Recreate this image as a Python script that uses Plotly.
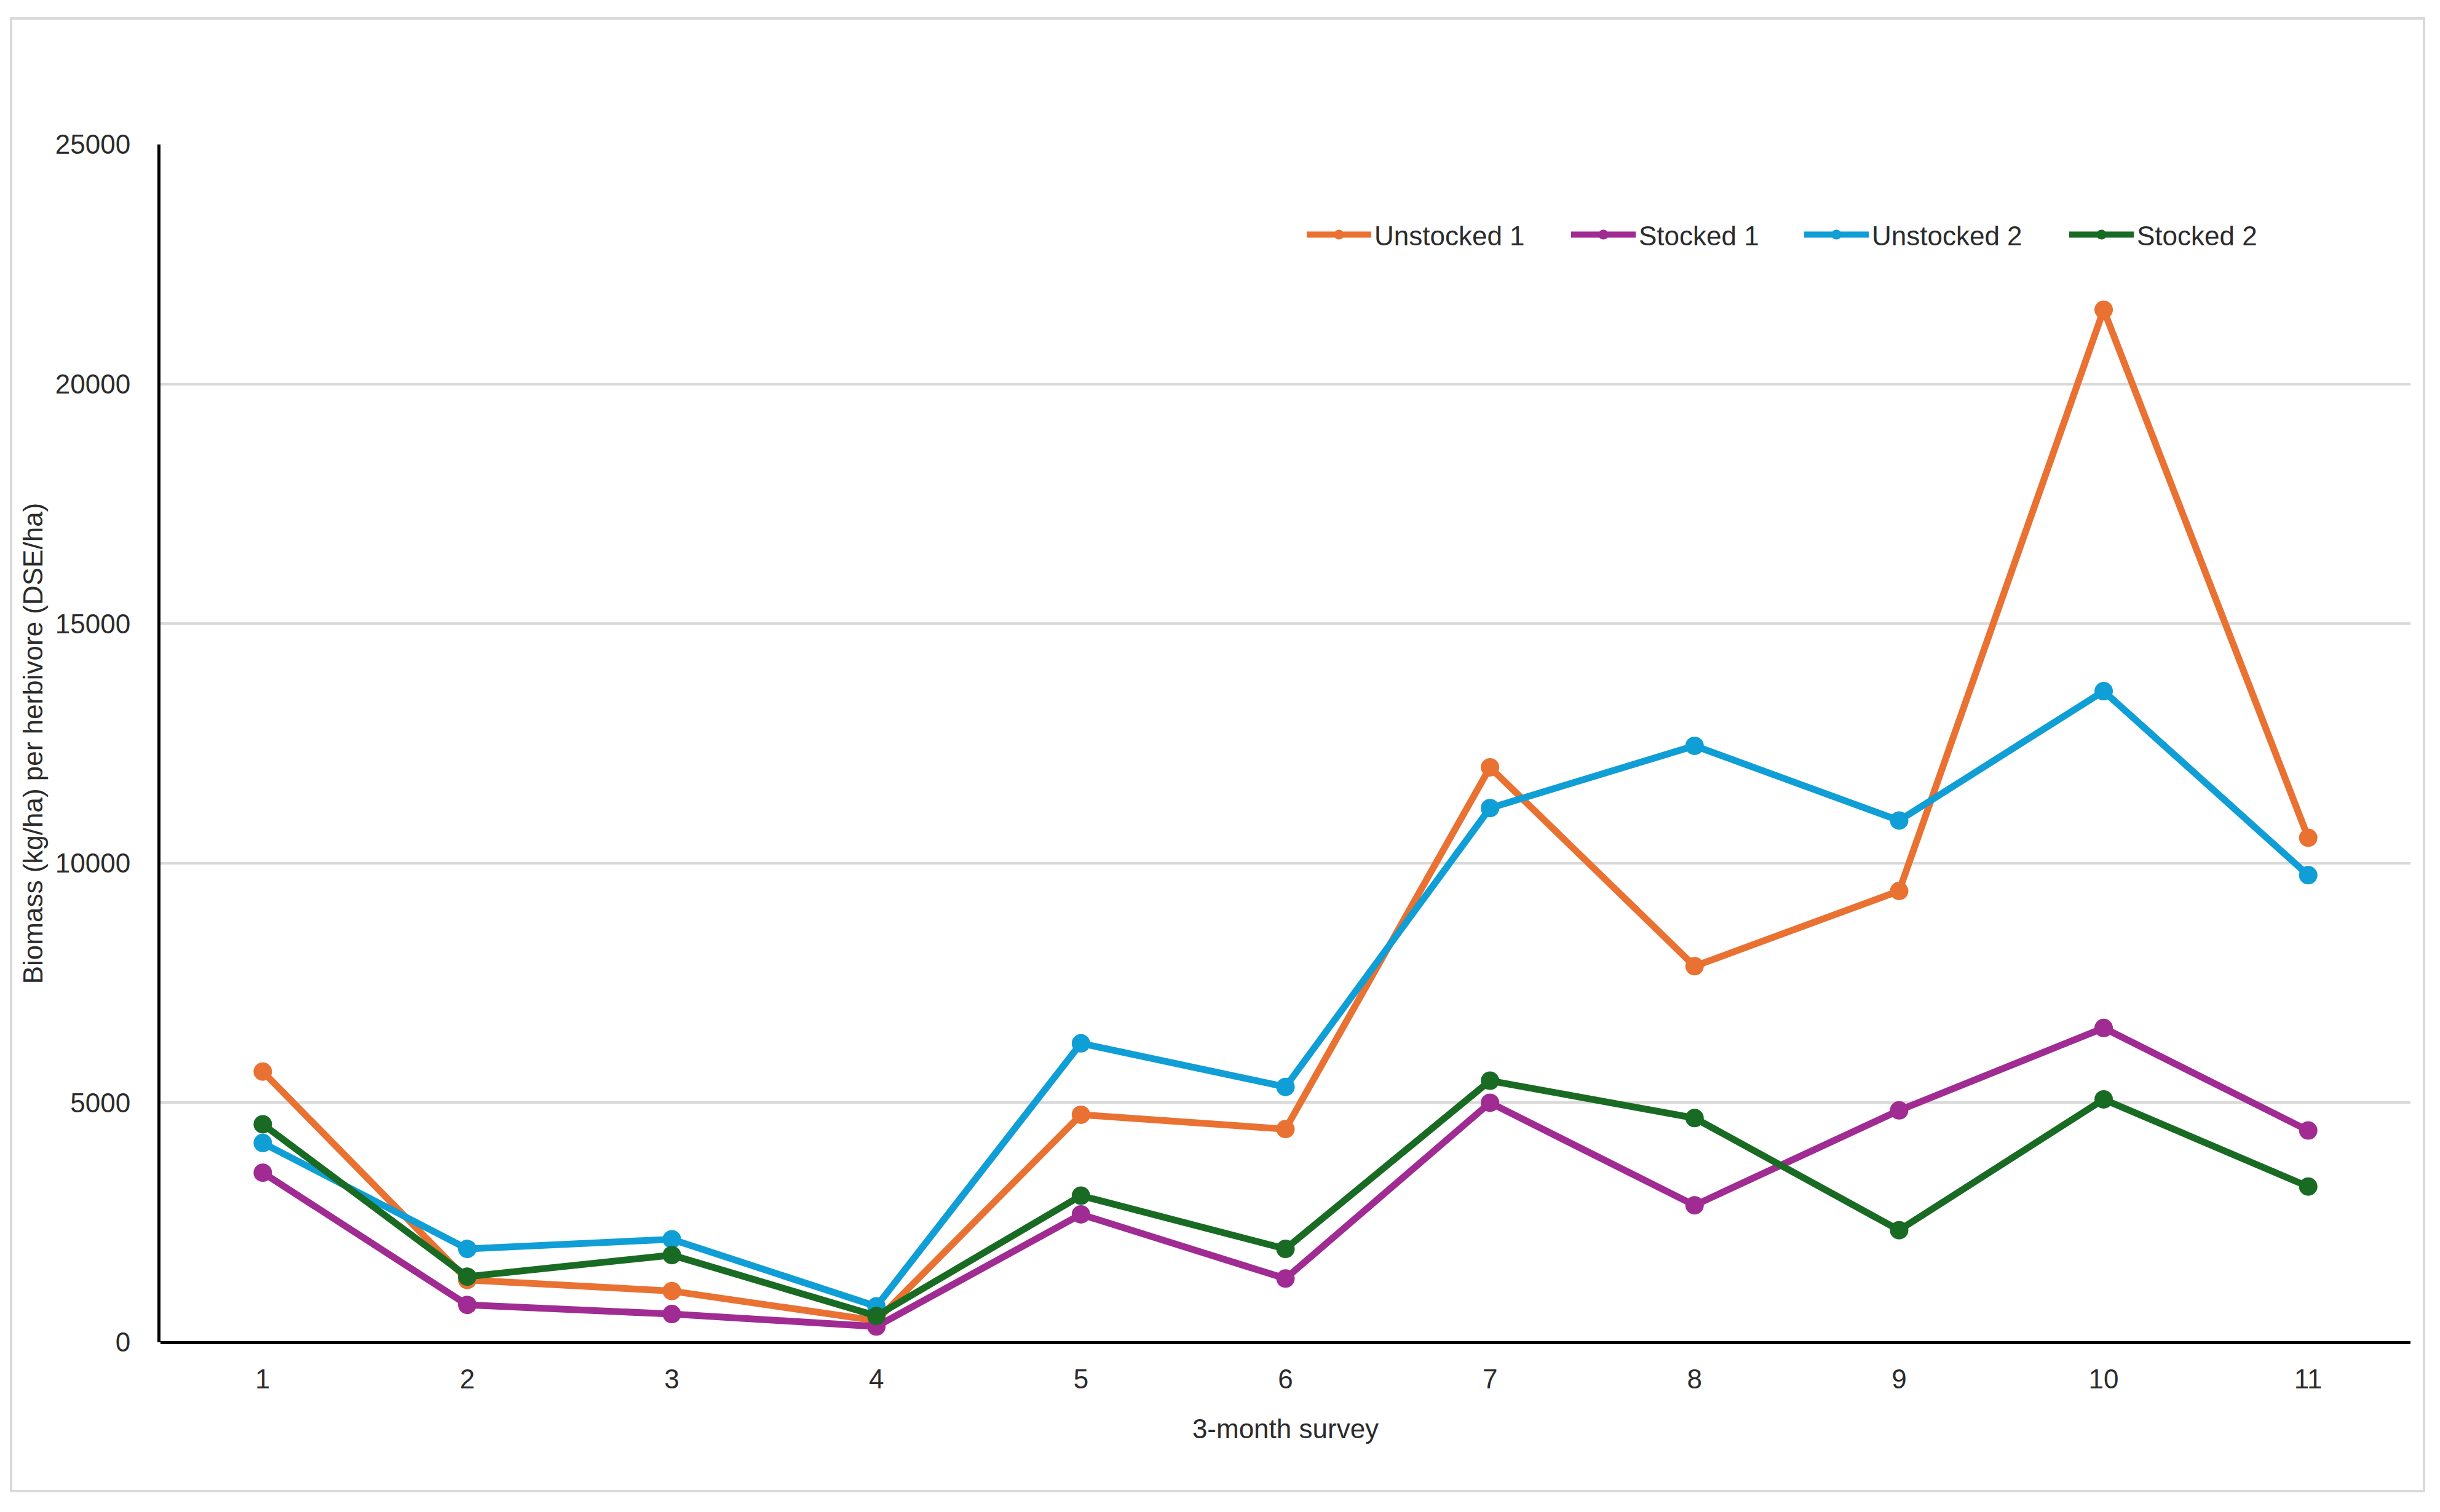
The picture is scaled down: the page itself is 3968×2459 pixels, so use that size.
import plotly.graph_objects as go

surveys = [1, 2, 3, 4, 5, 6, 7, 8, 9, 10, 11]
unstocked_1 = [5650, 1300, 1070, 450, 4750, 4450, 12000, 7850, 9420, 21550, 10530]
stocked_1 = [3540, 780, 590, 330, 2670, 1330, 5000, 2860, 4840, 6560, 4420]
unstocked_2 = [4160, 1950, 2150, 750, 6240, 5330, 11150, 12450, 10890, 13590, 9750]
stocked_2 = [4550, 1370, 1820, 550, 3060, 1950, 5460, 4680, 2340, 5070, 3250]

series_names = ["Unstocked 1", "Stocked 1", "Unstocked 2", "Stocked 2"]
series_values = [unstocked_1, stocked_1, unstocked_2, stocked_2]
series_colors = ["#E97132", "#A02B93", "#0F9ED5", "#196B24"]
legend_widths = [310, 259, 311, 200]

y_ticks = [0, 5000, 10000, 15000, 20000, 25000]

FONT = "Liberation Sans"
TEXT = "#2b2b2b"

fig = go.Figure()
for name, vals, col, lw in zip(series_names, series_values, series_colors, legend_widths):
    fig.add_trace(go.Scatter(
        x=surveys, y=vals, name=name, mode="lines+markers",
        line=dict(color=col, width=11),
        marker=dict(color=col, size=30),
        legendwidth=lw,
    ))

# page body has an 8px margin; compensate so the plot lands at the target position
OFF = 8
W, H = 3968 - 2 * OFF, 2459 - 2 * OFF
L, T = 261 - OFF, 235 - OFF
R = (OFF + W) - 3920
B = (OFF + H) - 2183
pw = W - L - R
ph = H - T - B

def px_x(x):
    return (x - OFF - L) / pw

def px_y(y):
    return (OFF + H - B - y) / ph

fig.add_shape(type="rect", xref="paper", yref="paper",
              x0=px_x(18), x1=px_x(3942), y0=px_y(2425), y1=px_y(30),
              line=dict(color="#D9D9D9", width=4), fillcolor="rgba(0,0,0,0)", layer="below")

fig.update_layout(
    width=W, height=H,
    margin=dict(l=L, r=R, t=T, b=B, autoexpand=False),
    paper_bgcolor="white", plot_bgcolor="white",
    font=dict(family=FONT, size=44, color=TEXT),
    showlegend=True,
    legend=dict(orientation="h", x=px_x(2120), y=px_y(382), xanchor="left", yanchor="middle",
                font=dict(family=FONT, size=44, color=TEXT), bgcolor="rgba(0,0,0,0)",
                itemwidth=105, tracegroupgap=0),
    xaxis=dict(
        range=[0.5, 11.5], tickmode="array", tickvals=surveys, ticktext=[str(s) for s in surveys],
        showgrid=False, zeroline=False, showline=False, ticks="",
        ticklabelstandoff=30,
        tickfont=dict(family=FONT, size=44, color=TEXT),
        title=dict(text="3-month survey", font=dict(family=FONT, size=44, color=TEXT), standoff=42),
    ),
    yaxis=dict(
        range=[0, 25000], tickmode="array", tickvals=y_ticks, ticktext=[str(v) for v in y_ticks],
        showgrid=True, gridcolor="#D9D9D9", gridwidth=4,
        zeroline=True, zerolinecolor="black", zerolinewidth=5,
        showline=True, linecolor="black", linewidth=5, ticks="",
        ticklabelstandoff=35,
        tickfont=dict(family=FONT, size=44, color=TEXT),
        title=dict(text="Biomass (kg/ha) per herbivore (DSE/ha)", font=dict(family=FONT, size=44, color=TEXT), standoff=8),
    ),
)

fig.write_html("out.html")
